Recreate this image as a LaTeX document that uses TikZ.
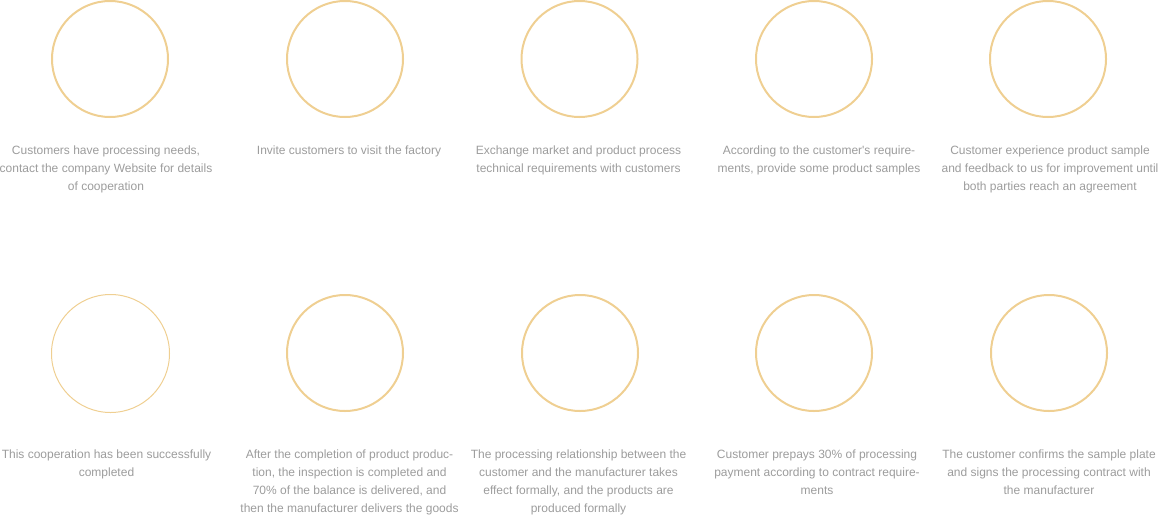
\documentclass[tikz,border=0pt]{standalone}
\usepackage{fontspec}
\setmainfont{Liberation Sans}[Ligatures=TeXOff]
\definecolor{ring}{HTML}{EFCF92}
\definecolor{txt}{HTML}{9C9C9C}
\begin{document}
\begin{tikzpicture}[x=1pt,y=-1pt,
  ring/.style={circle,draw=ring,line width=2pt,minimum size=116pt,inner sep=0pt},
  thinring/.style={circle,draw=ring,line width=1pt,minimum size=118pt,inner sep=0pt},
  lab/.style={anchor=base,align=center,text=txt,font=\fontsize{12}{18}\selectfont,inner sep=0pt}]
\useasboundingbox (0,0) rectangle (1158,514);
% top row
\node[ring] (c1) at (110,59) {};
\node[ring] (c2) at (345,59) {};
\node[ring] (c3) at (579.5,59) {};
\node[ring] (c4) at (814,59) {};
\node[ring] (c5) at (1048,59) {};
\node[lab,anchor=north] (t1) at (106,146) {Customers have processing needs,\\contact the company Website for details\\of cooperation};
\node[lab,anchor=north] (t2) at (349,146) {Invite customers to visit the factory};
\node[lab,anchor=north] (t3) at (578.5,146) {Exchange market and product process\\technical requirements with customers};
\node[lab,anchor=north] (t4) at (819,146) {According to the customer's require-\\ments, provide some product samples};
\node[lab,anchor=north] (t5) at (1050,146) {Customer experience product sample\\and feedback to us for improvement until\\both parties reach an agreement};
% bottom row
\node[thinring] (c6) at (110.5,353.5) {};
\node[ring] (c7) at (345,353) {};
\node[ring] (c8) at (580,353) {};
\node[ring] (c9) at (814,353) {};
\node[ring] (c10) at (1049,353) {};
\node[lab,anchor=north] (t6) at (106.5,450) {This cooperation has been successfully\\completed};
\node[lab,anchor=north] (t7) at (349.5,450) {After the completion of product produc-\\tion, the inspection is completed and\\70\% of the balance is delivered, and\\then the manufacturer delivers the goods};
\node[lab,anchor=north] (t8) at (578.5,450) {The processing relationship between the\\customer and the manufacturer takes\\effect formally, and the products are\\produced formally};
\node[lab,anchor=north] (t9) at (817,450) {Customer prepays 30\% of processing\\payment according to contract require-\\ments};
\node[lab,anchor=north] (t10) at (1049,450) {The customer confirms the sample plate\\and signs the processing contract with\\the manufacturer};
\end{tikzpicture}
\end{document}
